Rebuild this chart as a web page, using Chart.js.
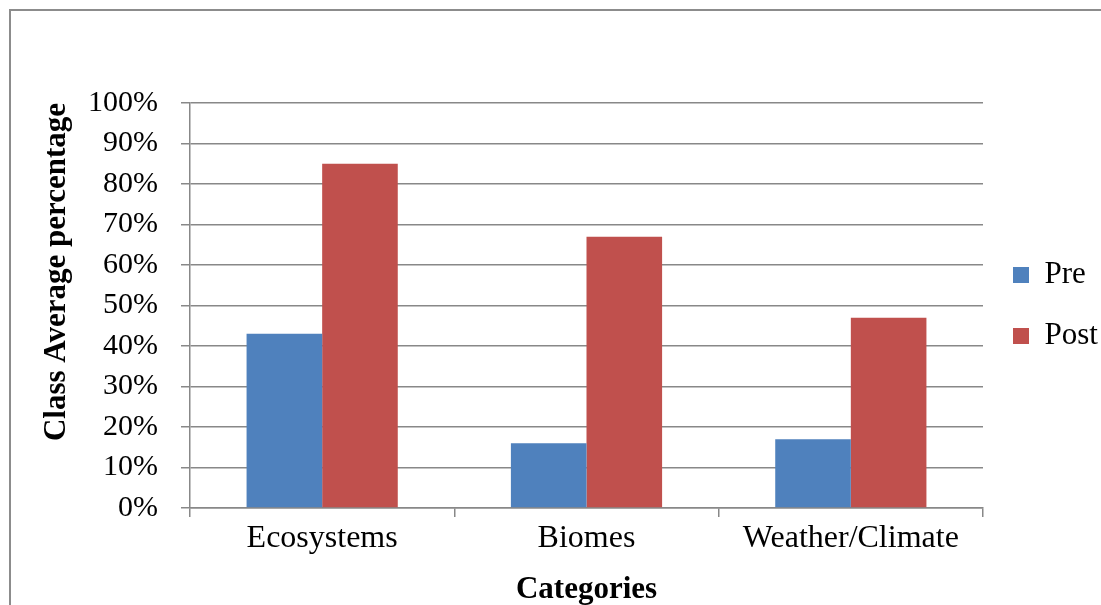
<!DOCTYPE html>
<html>
<head>
<meta charset="utf-8">
<script src="https://cdn.jsdelivr.net/npm/chart.js@4.4.0/dist/chart.umd.min.js"></script>
<style>
    html, body { margin: 0; padding: 0; background: #fff; }
    #wrap { position: relative; width: 1101px; height: 605px; overflow: hidden; }
    #chart { display: block; }
    #frame { position: absolute; left: 9px; top: 9px; width: 1200px; height: 700px; border: 2px solid #8c8c8c; pointer-events: none; }
</style>
</head>
<body>
<div id="wrap">
    <canvas id="chart" width="1101" height="605"></canvas>
    <div id="frame"></div>
</div>
<script>
const categories = ['Ecosystems', 'Biomes', 'Weather/Climate'];
const preValues = [43, 16, 17];
const postValues = [85, 67, 47];
const yMin = 0;
const yMax = 100;
const yStep = 10;

const serif = '"Liberation Serif", "Times New Roman", serif';
const gridGray = '#888888';

const data = {
    labels: categories,
    datasets: [{
        label: 'Pre',
        data: preValues,
        backgroundColor: '#4F81BD',
        borderWidth: 0
    }, {
        label: 'Post',
        data: postValues,
        backgroundColor: '#C0504D',
        borderWidth: 0
    }]
};

const config = {
    type: 'bar',
    data: data,
    options: {
        responsive: false,
        animation: false,
        devicePixelRatio: 1,
        layout: {
            padding: { left: 20, right: 3, top: 103, bottom: 0 }
        },
        datasets: {
            bar: {
                categoryPercentage: 0.572,
                barPercentage: 1
            }
        },
        plugins: {
            tooltip: { enabled: false },
            legend: {
                position: 'right',
                fullSize: false,
                maxWidth: 115,
                labels: {
                    boxWidth: 16,
                    boxHeight: 16,
                    padding: 30,
                    color: '#000',
                    font: { family: serif, size: 31 }
                }
            }
        },
        scales: {
            x: {
                grid: {
                    display: true,
                    drawOnChartArea: false,
                    drawTicks: true,
                    tickLength: 9,
                    color: gridGray,
                    lineWidth: 1.5
                },
                border: { display: true, color: gridGray, width: 1.5 },
                ticks: {
                    color: '#000',
                    padding: 2,
                    font: { family: serif, size: 32 }
                },
                title: {
                    display: true,
                    text: 'Categories',
                    color: '#000',
                    font: { family: serif, size: 31, weight: 'bold', lineHeight: 1 },
                    padding: { top: 0, bottom: 0 }
                },
                afterFit: function (scale) {
                    scale.height = 97;
                    scale.paddingLeft = 0;
                    scale.paddingRight = 0;
                }
            },
            y: {
                min: yMin,
                max: yMax,
                grid: {
                    color: gridGray,
                    lineWidth: 1.5,
                    tickLength: 9
                },
                border: { display: true, color: gridGray, width: 1.5 },
                ticks: {
                    stepSize: yStep,
                    color: '#000',
                    padding: 23,
                    font: { family: serif, size: 30 },
                    callback: function (v) { return v + '%'; }
                },
                title: {
                    display: true,
                    text: 'Class Average percentage',
                    align: 'end',
                    color: '#000',
                    font: { family: serif, size: 31, weight: 'bold' },
                    padding: { top: 18, bottom: 0 }
                },
                afterFit: function (scale) {
                    scale.width = 170;
                    scale.paddingTop = 0;
                    scale.paddingBottom = 0;
                }
            }
        }
    }
};

const ctx = document.getElementById('chart').getContext('2d');
new Chart(ctx, config);
</script>
</body>
</html>
